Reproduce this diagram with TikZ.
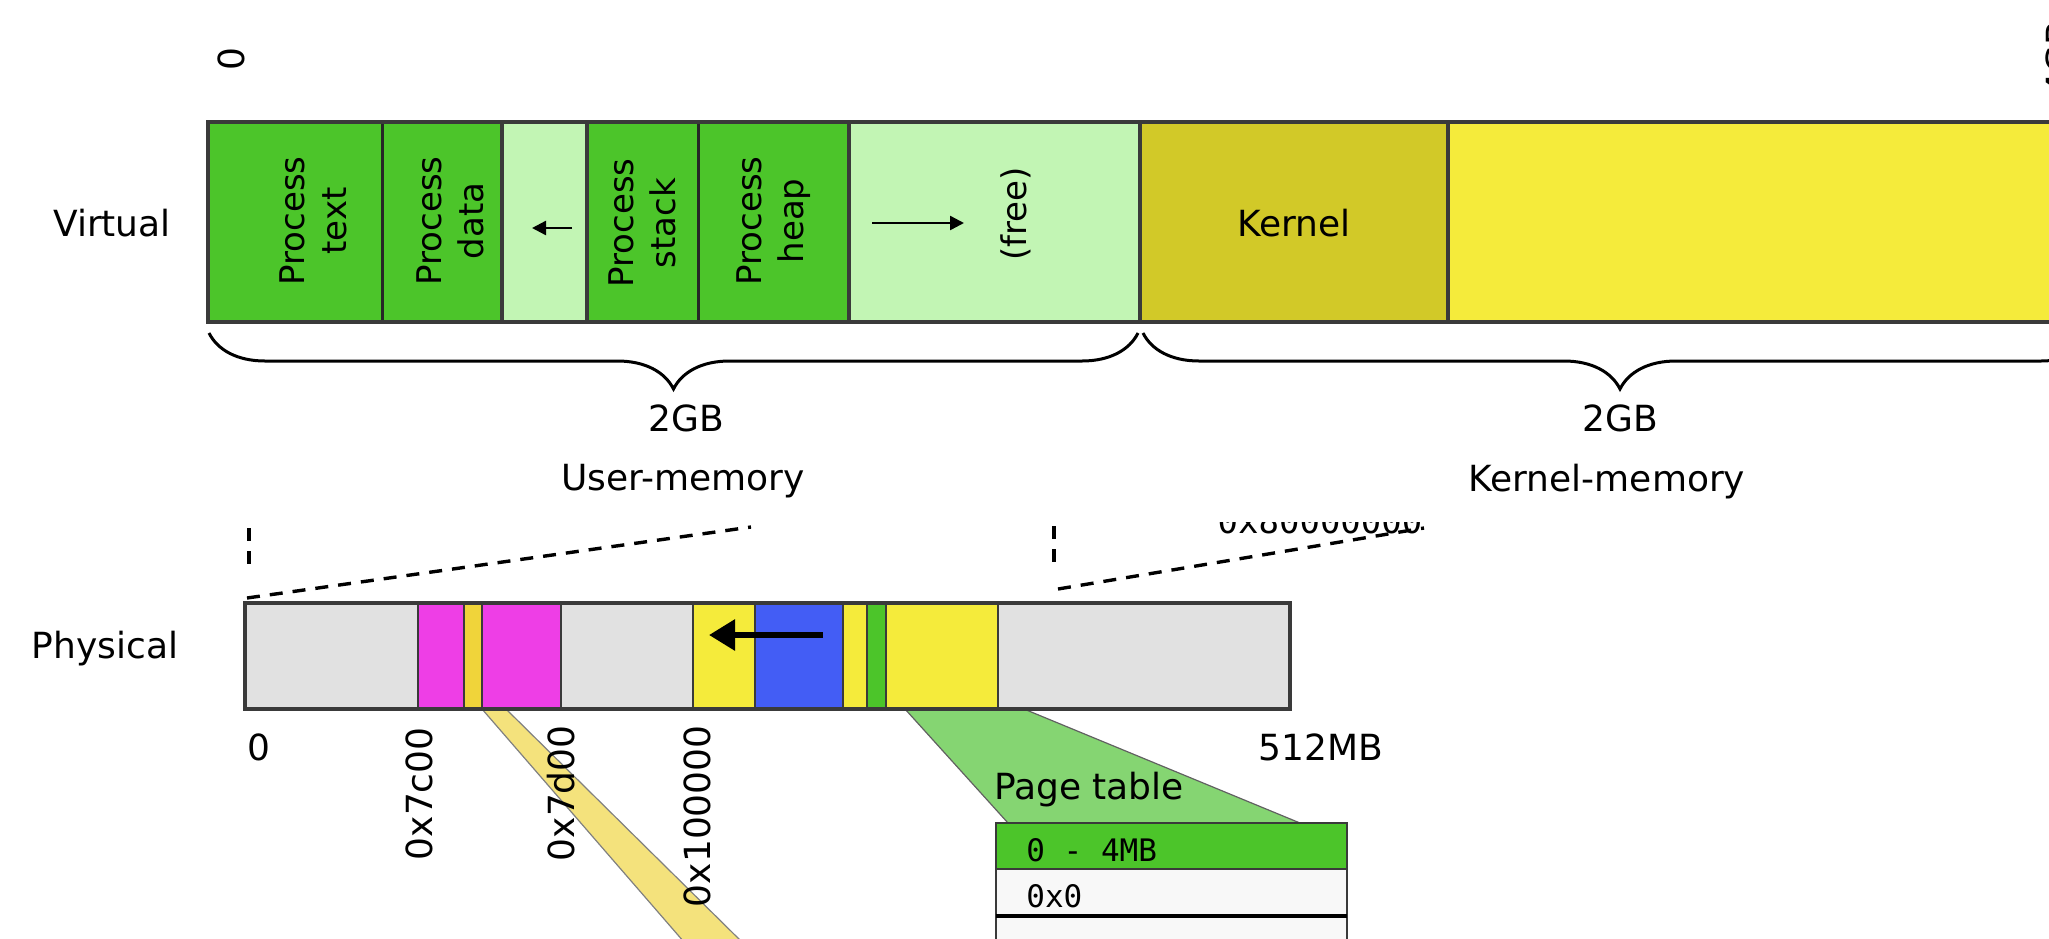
\documentclass[tikz,border=0pt]{standalone}
\usepackage{fontspec}
\setmainfont{DejaVu Sans}
\newfontfamily\monofont{DejaVu Sans Mono}
\usetikzlibrary{arrows.meta,decorations.pathreplacing}
\definecolor{procgreen}{HTML}{4CC52A}
\definecolor{freegreen}{HTML}{C2F5B4}
\definecolor{kernolive}{HTML}{D2C928}
\definecolor{kyellow}{HTML}{F5EB3B}
\definecolor{physgray}{HTML}{E1E1E1}
\definecolor{magentab}{HTML}{EE3EE6}
\definecolor{stripe}{HTML}{F0D43A}
\definecolor{physblue}{HTML}{435DF5}
\definecolor{tablegreen}{HTML}{85D572}
\definecolor{bandyellow}{HTML}{F4E27C}
\definecolor{edgegray}{HTML}{3A3A3A}
\definecolor{rowwhite}{HTML}{F8F8F8}
\tikzset{
  lbl/.style={font=\fontsize{18}{21}\selectfont, inner sep=0pt},
  proc/.style={font=\fontsize{17}{21}\selectfont, rotate=90, align=center, inner sep=0pt},
  hexlbl/.style={font=\fontsize{18}{21}\selectfont, rotate=90, anchor=east, inner sep=0pt},
  monolbl/.style={font=\monofont\fontsize{15.5}{18}\selectfont, inner sep=0pt, anchor=base west},
  outline/.style={draw=edgegray, line width=1.6pt},
  divider/.style={draw=black!85, line width=1.5pt},
  thindiv/.style={draw=edgegray, line width=0.8pt},
  dashline/.style={draw=black, line width=1.7pt, dash pattern=on 6.5pt off 5pt},
  bracestyle/.style={draw=black, line width=1.5pt, decorate, decoration={brace, amplitude=28pt}},
  smallarrow/.style={draw=black, line width=1.2pt, -{Triangle[length=7pt,width=7pt]}},
  bigarrow/.style={draw=black, line width=3pt, -{Triangle[length=13pt,width=15pt]}}
}
\begin{document}
\begin{tikzpicture}[x=0.5pt,y=-0.5pt]
\useasboundingbox (0,0) rectangle (2049,938);

% ---------------- Virtual bar ----------------
\fill[procgreen] (208,122) rectangle (502,322);
\fill[freegreen] (502,122) rectangle (587,322);
\fill[procgreen] (587,122) rectangle (849,322);
\fill[freegreen] (849,122) rectangle (1140,322);
\fill[kernolive] (1140,122) rectangle (1448,322);
\fill[kyellow] (1448,122) rectangle (2110,322);
\draw[divider] (382,122) -- (382,322);
\draw[divider] (698,122) -- (698,322);
\draw[outline] (502,122) -- (502,322);
\draw[outline] (587,122) -- (587,322);
\draw[outline] (849,122) -- (849,322);
\draw[outline] (1140,122) -- (1140,322);
\draw[outline] (1448,122) -- (1448,322);
\draw[outline] (2110,122) -- (208,122) -- (208,322) -- (2110,322);

\node[proc] (ptext) at (313,221) {Process\\text};
\node[proc] (pdata) at (450,221) {Process\\data};
\node[proc] (pstack) at (642,223) {Process\\stack};
\node[proc] (pheap) at (774,221) {Process\\heap};
\node[proc] (pfree) at (1016,214) {(free)};
\node[lbl] (kern) at (1294,223) {Kernel};

\coordinate (la1) at (572,228);
\coordinate (la2) at (532,228);
\draw[smallarrow] (la1) -- (la2);
\coordinate (fa1) at (872,223);
\coordinate (fa2) at (964,223);
\draw[smallarrow] (fa1) -- (fa2);

\node[lbl, rotate=90] (v0) at (231,59) {0};
\node[lbl, rotate=90, anchor=north east] (v4g) at (2045,20) {4GB};
\node[lbl] (virt) at (112,223) {Virtual};

% braces
\coordinate (bu1) at (1138,333);
\coordinate (bu2) at (209,333);
\draw[bracestyle] (bu1) -- (bu2);
\coordinate (bk1) at (2097,333);
\coordinate (bk2) at (1143,333);
\draw[bracestyle] (bk1) -- (bk2);
\node[lbl] (gb1) at (686,418) {2GB};
\node[lbl] (gb2) at (1620,418) {2GB};
\node[lbl] (umem) at (683,481) {User-memory};
\node[lbl] (kmem) at (1607,482) {Kernel-memory};

% cut text at the seam
\begin{scope}
\clip (1150,522) rectangle (1500,545);
\node[font=\monofont\fontsize{17}{20}\selectfont, inner sep=0pt, anchor=base] (k80) at (1320,533) {0x80000000};
\end{scope}

% dashed projection lines
\coordinate (d1a) at (249,528);
\coordinate (d1b) at (249,567);
\draw[dashline] (d1a) -- (d1b);
\coordinate (d2a) at (247,598);
\coordinate (d2b) at (751,527);
\draw[dashline] (d2a) -- (d2b);
\coordinate (d3a) at (1054,526);
\coordinate (d3b) at (1054,564);
\draw[dashline] (d3a) -- (d3b);
\coordinate (d4a) at (1058,589);
\coordinate (d4b) at (1424,528);
\draw[dashline] (d4a) -- (d4b);

% yellow band and green trapezoid
\filldraw[fill=bandyellow, draw=gray, line width=0.6pt] (482,709) -- (506,709) -- (742,942) -- (684,942) -- cycle;
\filldraw[fill=tablegreen, draw=edgegray!80, line width=0.6pt] (905,709) -- (1024,709) -- (1300,823) -- (1008,823) -- cycle;

% ---------------- Physical bar ----------------
\fill[physgray] (245,603) rectangle (1290,709);
\fill[magentab] (418,603) rectangle (464,709);
\fill[stripe] (464,603) rectangle (482,709);
\fill[magentab] (482,603) rectangle (561,709);
\fill[kyellow] (693,603) rectangle (755,709);
\fill[physblue] (755,603) rectangle (843,709);
\fill[kyellow] (843,603) rectangle (867,709);
\fill[procgreen] (867,603) rectangle (886,709);
\fill[kyellow] (886,603) rectangle (998,709);
\foreach \xx in {418,464,482,561,693,755,843,867,886,998}
  \draw[thindiv] (\xx,603) -- (\xx,709);
\draw[outline] (245,603) rectangle (1290,709);

\coordinate (pa1) at (823,635);
\coordinate (pa2) at (709,635);
\draw[bigarrow] (pa1) -- (pa2);

\node[lbl] (phys) at (105,649) {Physical};
\node[lbl] (p0) at (259,747) {0};
\node[lbl] (p512) at (1321,747) {512MB};
\node[hexlbl] (h7c) at (419,727) {0x7c00};
\node[hexlbl] (h7d) at (561,725) {0x7d00};
\node[hexlbl] (h1m) at (697,725) {0x100000};

% ---------------- Page table ----------------
\fill[procgreen] (996,823) rectangle (1347,869);
\fill[rowwhite] (996,869) rectangle (1347,916);
\fill[rowwhite] (996,916) rectangle (1347,950);
\draw[outline, line width=1.3pt] (996,950) -- (996,823) -- (1347,823) -- (1347,950);
\draw[outline, line width=1.3pt] (996,869) -- (1347,869);
\draw[black, line width=1.6pt] (996,916) -- (1347,916);
\node[lbl] (ptab) at (1089,790) {Page table};
\node[monolbl] (r1) at (1026,861) {0 - 4MB};
\node[monolbl] (r2) at (1026,907) {0x0};
\end{tikzpicture}
\end{document}
